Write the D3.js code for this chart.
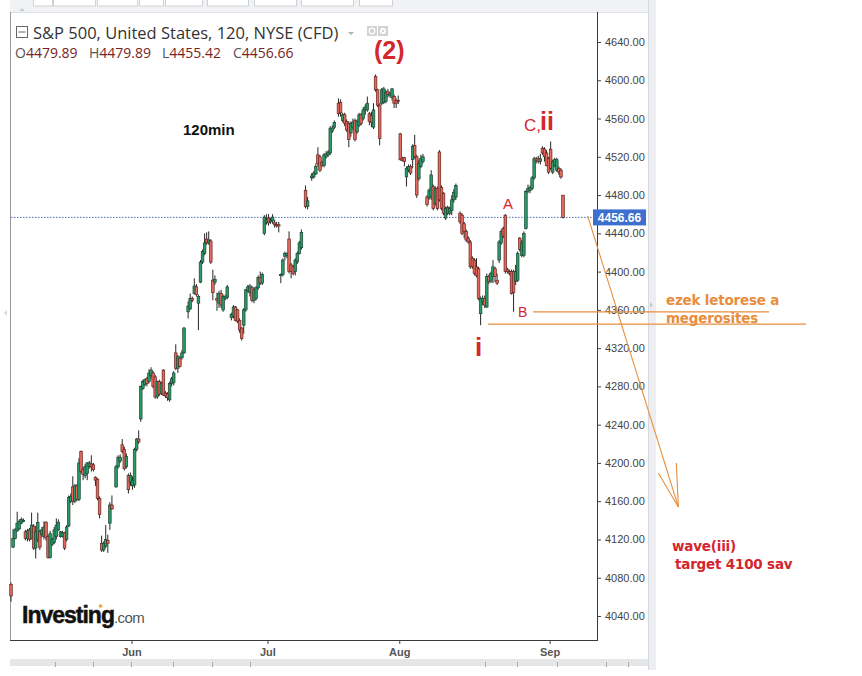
<!DOCTYPE html>
<html>
<head>
<meta charset="utf-8">
<script src="https://cdn.jsdelivr.net/npm/d3@7"></script>
<style>
  html, body { margin: 0; padding: 0; background: #fff; }
  svg { display: block; }
</style>
</head>
<body>
<svg id="chart" width="862" height="676"></svg>
<script>
// 120 minute bars, one entry per time slot: [open, high, low, close], null = empty slot
var mayBars = [
  [4073,4075,4055,4061],[4112,4131,4111,4121],[4121,4132,4120,4130],[4129,4149,4128,4137],
  [4131,4141,4130,4139],[4137,4143,4136,4141],[4139,4142,4138,4140],[4128,4130,4119,4121],
  [4121,4131,4118,4129],[4130,4132,4118,4120],[4121,4148,4120,4135],[4134,4136,4109,4111],
  [4111,4134,4100,4128],[4120,4148,4117,4138],[4128,4130,4109,4112],[4125,4133,4122,4130],
  [4123,4139,4120,4133],[4138,4139,4119,4122],[4123,4125,4100,4101],[4101,4129,4100,4126],
  [4115,4122,4113,4120],[4117,4133,4115,4130],[4123,4142,4120,4135],[4130,4141,4129,4138],
  [4123,4129,4122,4128],[4123,4129,4122,4127],[4127,4128,4109,4111],[4120,4135,4118,4133],
  [4134,4166,4133,4164],[4160,4168,4158,4165],[4175,4186,4156,4160],[4160,4178,4158,4176],
  [4176,4178,4160,4162],[4162,4205,4160,4200],[4212,4213,4189,4191],[4193,4196,4182,4188],
  [4187,4199,4184,4196],[4189,4201,4182,4200],[4196,4202,4194,4200],[4199,4208,4191,4196],
  [4198,4200,4191,4193],[4185,4186,4176,4182],[4183,4184,4161,4163],[4163,4165,4142,4146],
  [4116,4124,4107,4109],[4109,4118,4107,4116],[4113,4135,4111,4120],[4119,4125,4106,4116],
  [4137,4159,4130,4156],[4156,4166,4151,4152],null,[4175,4198,4174,4196],
  [4196,4208,4194,4206],[4202,4209,4200,4206],[4219,4225,4210,4212],[4214,4217,4192,4194],
  [4196,4210,4194,4207],[4187,4189,4168,4172],[4180,4190,4176,4187]
];
var juneBars = [
  [4176,4186,4172,4182],[4177,4216,4174,4214],[4214,4226,4212,4225],[4225,4234,4220,4222],
  [4246,4281,4243,4280],[4278,4287,4276,4285],[4282,4288,4280,4287],[4288,4290,4280,4283],
  [4285,4298,4283,4294],[4291,4300,4288,4297],[4294,4296,4278,4280],[4290,4292,4267,4269],
  [4269,4286,4267,4285],[4285,4287,4270,4272],[4273,4285,4271,4283],[4297,4298,4270,4271],
  [4273,4275,4268,4270],[4272,4274,4265,4268],[4266,4285,4264,4283],[4283,4290,4280,4288],
  [4284,4296,4281,4294],[4315,4324,4297,4299],[4299,4313,4294,4311],[4309,4312,4300,4301],
  [4310,4318,4308,4315],[4315,4342,4314,4341],null,[4358,4369,4351,4364],
  [4361,4377,4360,4372],[4372,4374,4368,4370],[4377,4393,4376,4385],[4384,4387,4374,4376],
  [4367,4376,4339,4374],[4389,4412,4388,4410],[4410,4423,4408,4421],[4419,4440,4417,4430],
  [4434,4441,4428,4430],[4430,4442,4428,4433],[4432,4434,4408,4410],[4391,4402,4370,4378],
  [4389,4396,4386,4392],[4372,4378,4359,4370],[4367,4380,4362,4377],[4377,4381,4362,4365],
  [4360,4376,4358,4374],[4372,4376,4370,4374],[4373,4386,4371,4384],null,
  [4352,4357,4349,4355],[4353,4365,4351,4363],[4363,4364,4348,4349],[4360,4361,4346,4348],
  [4349,4351,4336,4339],[4341,4342,4328,4330],[4344,4362,4335,4360],[4360,4382,4358,4381],
  [4380,4386,4378,4384],[4378,4387,4374,4385],[4383,4385,4368,4370],[4370,4384,4367,4381],
  [4372,4385,4370,4383],[4383,4396,4381,4394],[4394,4400,4386,4388],[4388,4399,4386,4397],
  [4440,4459,4438,4457],[4451,4460,4449,4454]
];
var julyBars = [
  [4456,4460,4448,4451],[4452,4456,4450,4454],[4453,4460,4450,4457],[4451,4454,4446,4449],
  [4449,4452,4446,4448],[4449,4452,4441,4448],[4396,4398,4388,4397],[4397,4414,4395,4412],
  [4416,4421,4412,4419],[4417,4420,4414,4419],[4434,4442,4398,4400],[4407,4409,4393,4400],
  [4405,4407,4396,4398],[4400,4414,4396,4412],[4410,4421,4408,4419],[4419,4432,4418,4430],
  [4425,4444,4423,4441],null,[4485,4490,4466,4468],[4468,4478,4465,4474],
  null,[4498,4503,4495,4500],[4499,4505,4497,4503],[4502,4513,4501,4510],
  [4522,4530,4510,4513],[4520,4522,4504,4506],[4514,4516,4509,4511],[4511,4524,4509,4522],
  [4520,4526,4518,4523],[4522,4527,4520,4525],[4524,4552,4522,4550],[4547,4553,4545,4550],
  [4551,4558,4549,4556],null,[4576,4581,4562,4565],[4577,4580,4562,4566],
  [4558,4566,4556,4564],[4564,4566,4552,4555],[4557,4559,4546,4548],[4555,4557,4530,4538],
  [4545,4557,4541,4555],[4551,4560,4548,4556],[4558,4560,4536,4538],[4546,4559,4544,4557],
  [4553,4566,4551,4564],[4564,4566,4553,4555],[4560,4572,4558,4569],[4569,4575,4564,4572],
  [4569,4583,4567,4576],[4565,4567,4553,4557],[4563,4567,4551,4556],[4551,4576,4549,4569],
  [4604,4606,4588,4590],[4590,4591,4572,4574],[4574,4576,4532,4539],[4576,4592,4574,4590],
  [4577,4593,4575,4591],[4578,4590,4576,4587],[4588,4591,4582,4585],[4584,4588,4582,4586],
  [4582,4592,4579,4591],[4583,4585,4571,4576],[4579,4581,4571,4576],[4579,4584,4575,4578]
];
var augBars = [
  [4544,4545,4516,4517],[4518,4520,4515,4516],[4519,4520,4510,4515],[4499,4510,4489,4508],
  [4506,4512,4504,4510],[4510,4512,4501,4503],[4517,4533,4508,4531],[4532,4543,4518,4520],
  [4520,4522,4477,4480],[4497,4517,4495,4513],[4510,4522,4508,4518],[4515,4523,4513,4520],
  null,[4478,4480,4468,4470],[4477,4487,4475,4485],[4478,4506,4475,4501],
  [4489,4491,4464,4466],[4471,4489,4469,4487],[4487,4489,4464,4466],[4525,4527,4473,4475],
  [4488,4490,4464,4466],[4482,4483,4459,4461],[4456,4468,4454,4466],[4461,4469,4459,4467],
  [4461,4468,4459,4466],[4464,4480,4459,4475],[4475,4486,4472,4483],[4478,4492,4475,4490],
  null,[4461,4463,4450,4452],[4459,4461,4438,4440],[4450,4452,4435,4442],
  [4442,4444,4431,4433],[4435,4437,4429,4431],[4431,4433,4403,4405],[4414,4416,4403,4405],
  [4412,4414,4396,4398],[4405,4414,4394,4396],[4403,4405,4370,4372],[4356,4374,4344,4372],
  [4369,4375,4365,4372],[4372,4375,4362,4365],[4363,4398,4362,4395],[4395,4397,4387,4390],
  [4390,4400,4388,4398],[4395,4412,4388,4405],[4403,4405,4389,4395],[4391,4398,4386,4388],
  [4412,4433,4409,4431],[4430,4444,4428,4442],[4445,4447,4435,4437],[4459,4460,4398,4400],
  [4402,4404,4398,4400],[4400,4402,4396,4398],[4400,4402,4376,4377],[4400,4402,4358,4378],
  [4390,4407,4386,4400],[4391,4421,4389,4419],[4435,4436,4421,4423],[4417,4433,4415,4430],
  [4417,4442,4415,4440],[4445,4485,4444,4484],[4484,4491,4482,4487],[4485,4490,4482,4488],
  [4487,4500,4485,4498],[4498,4520,4496,4518],[4518,4520,4513,4516],[4518,4521,4513,4515],
  [4515,4523,4512,4518],[4529,4531,4522,4524],[4528,4530,4515,4520],[4524,4527,4510,4511],
  [4518,4520,4502,4504]
];
var sepBars = [
  [4528,4536,4506,4508],[4504,4517,4502,4515],[4511,4519,4509,4517],[4506,4519,4504,4517],
  [4508,4510,4501,4504],[4506,4508,4497,4499],[4479.89,4479.89,4455.42,4456.66]
];

var months = ["Jun", "Jul", "Aug", "Sep"];
var priceTicks = [4040,4080,4120,4160,4200,4240,4280,4320,4360,4400,4440,4480,4520,4560,4600,4640];
var lastBar = { o: 4479.89, h: 4479.89, l: 4455.42, c: 4456.66 };

// hand drawn marks on the picture, in slot / price units
var supportLevels = [ { price: 4358, from: 253.5, to: 368 }, { price: 4345, from: 231.5, to: 386 } ];
var targetPath = [ [280, 4458], [324, 4154] ];

var allBars = mayBars.concat(juneBars, julyBars, augBars, sepBars);
var bars = [];
allBars.forEach(function (b, i) {
  if (b) bars.push({ i: i, o: b[0], h: b[1], l: b[2], c: b[3] });
});
// month boundaries fall between the last slot of one month and the first of the next
var monthStarts = [mayBars.length, mayBars.length + juneBars.length,
  mayBars.length + juneBars.length + julyBars.length,
  mayBars.length + juneBars.length + julyBars.length + augBars.length].map(function (d) { return d - 0.5; });

var svg = d3.select("#chart");
var plot = { left: 10, right: 597, top: 12, bottom: 640 };

var x = d3.scaleLinear().domain([0, allBars.length - 1]).range([11, 563]);
var y = d3.scaleLinear().domain([4040, 4640]).range([616, 42]);

// --- frame / toolbar decoration
svg.append("rect").attr("x", 10).attr("y", 0).attr("width", 640).attr("height", 12).attr("fill", "#f1f2f4");
var buttons = [[33, 52], [53, 95], [97, 137], [139, 163], [165, 202], [207, 248], [254, 296], [301, 353], [359, 392]];
svg.selectAll("rect.btn").data(buttons).join("rect")
  .attr("class", "btn")
  .attr("x", function (d) { return d[0] + 0.5; }).attr("y", -2)
  .attr("width", function (d) { return d[1] - d[0]; }).attr("height", 8)
  .attr("fill", "#fff").attr("stroke", "#cfd2d6").attr("stroke-width", 1);
svg.append("line").attr("x1", 10).attr("x2", 650).attr("y1", 12.5).attr("y2", 12.5).attr("stroke", "#dcdfe3");
svg.append("path").attr("d", "M19,11 L22,8 L25,11 Z").attr("fill", "#c8cbd0");

svg.append("rect").attr("x", 648).attr("y", 0).attr("width", 8).attr("height", 670).attr("fill", "#eceef1");
svg.append("line").attr("x1", 648.5).attr("x2", 648.5).attr("y1", 0).attr("y2", 670).attr("stroke", "#d6d9dd");
svg.append("path").attr("d", "M650,302 L653,305 L650,308 Z").attr("fill", "#c4c7cc");
svg.append("path").attr("d", "M7,310 L4,313 L7,316 Z").attr("fill", "#d4d6da");

// navigator strip
svg.append("rect").attr("x", 10).attr("y", 659).attr("width", 638).attr("height", 7).attr("fill", "#e5e6e8");
var navTicks = [55, 93, 131, 173, 212, 250, 485, 517, 557, 606, 628];
svg.selectAll("line.nav").data(navTicks).join("line")
  .attr("x1", function (d) { return d + 0.5; }).attr("x2", function (d) { return d + 0.5; })
  .attr("y1", 662).attr("y2", 667).attr("stroke", "#a9abae");

// left border
svg.append("line").attr("x1", 10.5).attr("x2", 10.5).attr("y1", 12).attr("y2", plot.bottom)
  .attr("stroke", "#9a9a9a");

// --- logo
var logo = svg.append("text").attr("x", 22).attr("y", 623)
  .style("font-family", "Liberation Sans, Arial, sans-serif");
logo.append("tspan").text("Investing").attr("font-size", 23).attr("font-weight", "bold")
  .attr("letter-spacing", -1).attr("fill", "#111").attr("stroke", "#111").attr("stroke-width", 0.5);
logo.append("tspan").text(".com").attr("font-size", 15).attr("fill", "#555").attr("letter-spacing", -0.6);
svg.append("circle").attr("cx", 100.5).attr("cy", 606).attr("r", 1.8).attr("fill", "#f2a52c");

// --- last price line
svg.append("line").attr("x1", 11).attr("x2", 594).attr("y1", y(lastBar.c)).attr("y2", y(lastBar.c))
  .attr("stroke", "#4a72b8").attr("stroke-width", 1).attr("stroke-dasharray", "1.5,1.5");

// --- candles
var g = svg.append("g");
var bw = 2.6;
g.selectAll("line.wick").data(bars).join("line")
  .attr("class", "wick")
  .attr("x1", function (d) { return x(d.i); }).attr("x2", function (d) { return x(d.i); })
  .attr("y1", function (d) { return y(d.h); }).attr("y2", function (d) { return y(d.l); })
  .attr("stroke", "#262626").attr("stroke-width", 1);
g.selectAll("rect.body").data(bars).join("rect")
  .attr("class", "body")
  .attr("x", function (d) { return x(d.i) - bw / 2; })
  .attr("y", function (d) { return y(Math.max(d.o, d.c)); })
  .attr("width", bw)
  .attr("height", function (d) { return Math.max(1.2, Math.abs(y(d.o) - y(d.c))); })
  .attr("fill", function (d) { return d.c >= d.o ? "#2a9a68" : "#e4695e"; })
  .attr("stroke", function (d) { return d.c >= d.o ? "#1c4532" : "#64241e"; })
  .attr("stroke-width", 0.7);

// --- axes
var yAxis = d3.axisRight(y).tickValues(priceTicks).tickFormat(d3.format(".2f")).tickSize(4).tickSizeOuter(0);
var ya = svg.append("g").attr("transform", "translate(" + plot.right + ",0)").call(yAxis);
ya.select(".domain").remove();
ya.selectAll("line").attr("stroke", "#444");
ya.selectAll("text").attr("x", 8).attr("fill", "#444")
  .style("font-family", "Liberation Sans, Arial, sans-serif").style("font-size", "11px");
svg.append("line").attr("x1", plot.right + 0.5).attr("x2", plot.right + 0.5)
  .attr("y1", plot.top).attr("y2", plot.bottom).attr("stroke", "#3a3a3a");

var xAxis = d3.axisBottom(x).tickValues(monthStarts)
  .tickFormat(function (d, i) { return months[i]; }).tickSize(4).tickSizeOuter(0);
var xa = svg.append("g").attr("transform", "translate(0," + plot.bottom + ")").call(xAxis);
xa.select(".domain").remove();
xa.selectAll("line").attr("stroke", "#444");
xa.selectAll("text").attr("y", 8).attr("fill", "#555").attr("font-weight", "bold")
  .style("font-family", "Liberation Sans, Arial, sans-serif").style("font-size", "11px");
svg.append("line").attr("x1", plot.left).attr("x2", plot.right + 1)
  .attr("y1", plot.bottom + 0.5).attr("y2", plot.bottom + 0.5).attr("stroke", "#3a3a3a");

// current price tag
var tag = svg.append("g").attr("transform", "translate(593," + y(lastBar.c) + ")");
tag.append("rect").attr("x", 0).attr("y", -8).attr("width", 53).attr("height", 16).attr("fill", "#3d6fcf");
tag.append("text").attr("x", 26.5).attr("y", 4.5).attr("text-anchor", "middle")
  .attr("fill", "#fff").attr("font-weight", "bold")
  .style("font-family", "Liberation Sans, Arial, sans-serif").style("font-size", "12px")
  .text(d3.format(".2f")(lastBar.c));

// --- header
svg.append("rect").attr("x", 16.5).attr("y", 26.5).attr("width", 11).attr("height", 11)
  .attr("fill", "none").attr("stroke", "#666");
svg.append("line").attr("x1", 18.5).attr("x2", 25.5).attr("y1", 32).attr("y2", 32).attr("stroke", "#666");
svg.append("text").attr("x", 33).attr("y", 38.5).attr("fill", "#333")
  .style("font-family", "Open Sans, sans-serif").style("font-size", "16.5px")
  .text("S&P 500, United States, 120, NYSE (CFD)");
svg.append("path").attr("d", "M348,32 L354,32 L351,35 Z").attr("fill", "#b0b0b0");
svg.append("rect").attr("x", 367).attr("y", 26).attr("width", 10).attr("height", 10).attr("fill", "#d3d3d3");
svg.append("circle").attr("cx", 372).attr("cy", 31).attr("r", 2.8).attr("fill", "none").attr("stroke", "#fff").attr("stroke-width", 1.2);
svg.append("rect").attr("x", 378).attr("y", 26).attr("width", 10).attr("height", 10).attr("fill", "#d3d3d3");
svg.append("circle").attr("cx", 383).attr("cy", 31).attr("r", 3).attr("fill", "#fff");
svg.append("circle").attr("cx", 383).attr("cy", 31).attr("r", 1.2).attr("fill", "#d3d3d3");

var ohlc = [["O", lastBar.o, 15], ["H", lastBar.h, 89], ["L", lastBar.l, 162], ["C", lastBar.c, 233]];
ohlc.forEach(function (d) {
  var t = svg.append("text").attr("x", d[2]).attr("y", 58)
    .style("font-family", "Open Sans, sans-serif").style("font-size", "14px");
  t.append("tspan").text(d[0]).attr("fill", "#555");
  t.append("tspan").text(d3.format(".2f")(d[1])).attr("fill", "#7a2323");
});

// --- annotations
function note(txt, px, py, size, weight, color) {
  svg.append("text").attr("x", px).attr("y", py).attr("fill", color).attr("font-weight", weight)
    .style("font-family", "Liberation Sans, Arial, sans-serif").style("font-size", size + "px")
    .text(txt);
}
var red = "#d3262d";
note("(2)", 374, 59, 25, "bold", red);
note("120min", 183, 135, 15, "bold", "#111");
note("C,", 524, 131, 17, "normal", red);
note("ii", 540, 130, 25, "bold", red);
note("A", 503, 209, 15, "normal", red);
note("B", 518, 317, 14, "normal", red);
note("i", 475, 356, 26, "bold", red);

var orange = "#e88d3c";
supportLevels.forEach(function (s) {
  svg.append("line").attr("x1", x(s.from)).attr("x2", x(s.to))
    .attr("y1", y(s.price)).attr("y2", y(s.price)).attr("stroke", orange).attr("stroke-width", 1.2);
});
var tip = [x(targetPath[1][0]), y(targetPath[1][1])];
svg.append("line").attr("x1", x(targetPath[0][0])).attr("y1", y(targetPath[0][1]))
  .attr("x2", tip[0]).attr("y2", tip[1]).attr("stroke", orange).attr("stroke-width", 1.1);
svg.append("line").attr("x1", tip[0] - 20).attr("y1", tip[1] - 34).attr("x2", tip[0]).attr("y2", tip[1])
  .attr("stroke", orange).attr("stroke-width", 1.1);
svg.append("line").attr("x1", tip[0] - 2).attr("y1", tip[1] - 44).attr("x2", tip[0]).attr("y2", tip[1])
  .attr("stroke", orange).attr("stroke-width", 1.1);

function note2(txt, px, py, color) {
  svg.append("text").attr("x", px).attr("y", py).attr("fill", color).attr("font-weight", "bold")
    .style("font-family", "DejaVu Sans, sans-serif").style("font-size", "13.5px")
    .attr("letter-spacing", -0.2)
    .text(txt);
}
note2("ezek letorese a", 666, 305, orange);
note2("megerosites", 666, 323, orange);
note2("wave(iii)", 672, 551, red);
note2("target 4100 sav", 675, 569, red);
</script>
</body>
</html>
